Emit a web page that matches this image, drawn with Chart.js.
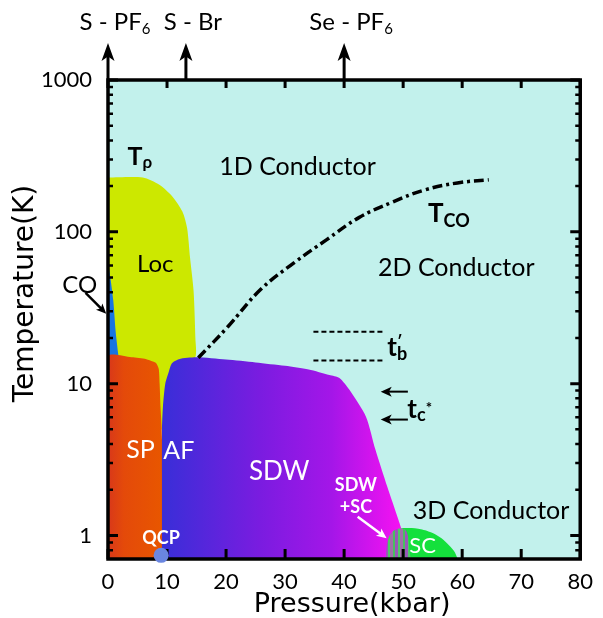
<!DOCTYPE html>
<html>
<head>
<meta charset="utf-8">
<script src="https://cdn.jsdelivr.net/npm/chart.js@4.4.0/dist/chart.umd.min.js"></script>
<style>
  html, body { margin: 0; padding: 0; background: #fff; }
</style>
</head>
<body>
<canvas id="myCanvas" width="603" height="618"></canvas>
<script>
// axis ticks
const xTicks = [0, 10, 20, 30, 40, 50, 60, 70, 80];
const yTicks = [1, 10, 100, 1000];
const yMinorTicks = [0.8, 0.9, 2, 3, 4, 5, 6, 7, 8, 9, 20, 30, 40, 50, 60, 70, 80, 90,
  200, 300, 400, 500, 600, 700, 800, 900];

// phase regions (pressure in kbar, temperature in K)
const locP = [0, 5.9, 8.7, 10.9, 12.6, 13.4, 13.9, 14.5, 14.8, 14.8, 9.2, 8.8, 0, 0];
const locT = [228, 228, 204, 171, 136, 106, 67.5, 40.8, 20, 14.9, 5, 5, 5, 228];

const coP = [0, 0.4, 0.9, 1.3, 1.7, 1.8, 0, 0];
const coT = [62, 50, 35, 22, 16, 14, 14, 62];

const spP = [0, 0, 4, 6.5, 7.6, 8.2, 8.6, 8.75, 8.9, 9.1, 9.15, 0];
const spT = [0.6, 15, 14.9, 14.5, 14.0, 13.6, 12.5, 10, 7, 5, 0.6, 0.6];

const sdwP = [9.15, 9.15, 9.3, 9.7, 10.3, 10.8, 12, 15, 20, 25, 30, 34, 37.5, 39.2,
  40.9, 43.7, 45.3, 47.3, 49.2, 50, 50.6, 9.15];
const sdwT = [0.6, 5, 7, 10, 12, 13.6, 14.5, 14.9, 14.4, 13.8, 13.1, 12.4, 11.4, 10.9,
  9.1, 6.06, 3.68, 2.1, 1.27, 1.0, 0.6, 0.6];

const scP = [49.5, 49.5, 51, 53, 55, 56.5, 57.8, 58.8, 59.5, 49.5];
const scT = [0.6, 1.1, 1.12, 1.1, 1.04, 0.96, 0.86, 0.77, 0.6, 0.6];

const mixP = [47, 47.2, 47.6, 48.3, 49.3, 50.3, 50.8, 51, 51.1, 47];
const mixT = [0.6, 0.85, 0.98, 1.07, 1.11, 1.1, 1.0, 0.85, 0.6, 0.6];

// crossover lines
const tcoP = [15.3, 20.3, 25.8, 31.5, 37, 42.5, 48.2, 53.7, 59.2, 64.5];
const tcoT = [14.8, 23.7, 41.5, 62.5, 88.5, 124, 157, 189, 210, 220];

const tbP = [34.8, 46.7];
const tbUpperT = [22, 22];
const tbLowerT = [14.2, 14.2];

const tcArrowP = [50.8, 46.2];
const tcArrowT = [8.86, 5.8];

const qcpP = [9];
const qcpT = [0.74];

// compounds marked above the plot
const compoundNames = ['S - PF', 'S - Br', 'Se - PF'];
const compoundSub = ['6', '', '6'];
const compoundP = [0, 13.2, 40];

const xTitle = 'Pressure(kbar)';
const yTitle = 'Temperature(K)';

function pts(xs, ys) {
  return xs.map((x, i) => ({ x: x, y: ys[i] }));
}

function gradient(ctx, stops, from, to) {
  const chart = ctx.chart;
  if (!chart.chartArea) return stops[0][1];
  const xs = chart.scales.x;
  const g = chart.ctx.createLinearGradient(xs.getPixelForValue(from), 0, xs.getPixelForValue(to), 0);
  stops.forEach(s => g.addColorStop(s[0], s[1]));
  return g;
}

function stripePattern() {
  const c = document.createElement('canvas');
  c.width = 10; c.height = 10;
  const g = c.getContext('2d');
  const cols = [['#a070a8', 3], ['#48c060', 2], ['#9858b8', 3], ['#50c868', 2]];
  let x = 0;
  cols.forEach(([col, w]) => { g.fillStyle = col; g.fillRect(x, 0, w, 10); x += w; });
  return g.createPattern(c, 'repeat');
}

function region(label, xs, ys, color, order) {
  return {
    label: label,
    data: pts(xs, ys),
    fill: 'shape',
    backgroundColor: color,
    borderColor: 'transparent',
    borderWidth: 0,
    pointRadius: 0,
    tension: 0.25,
    order: order
  };
}

const datasets = [
  region('Loc', locP, locT, '#cce800', 10),
  region('CO', coP, coT, '#1874e0', 9),
  region('SP', spP, spT, ctx => gradient(ctx, [[0, '#d8381a'], [0.3, '#e44a0a'], [1, '#e85600']], 0, 9), 8),
  region('SDW', sdwP, sdwT, ctx => gradient(ctx, [[0, '#3a2ed8'], [0.4, '#7a1ce0'], [0.7, '#a416e8'], [1, '#f812f2']], 9.5, 50), 7),
  region('SC', scP, scT, '#14e03c', 6),
  region('SDW+SC', mixP, mixT, stripePattern(), 5),
  {
    label: 'Tco', data: pts(tcoP, tcoT), borderColor: '#000', borderWidth: 3.5,
    borderDash: [10, 4, 3, 4], pointRadius: 0, tension: 0.4, fill: false, order: 4
  },
  {
    label: 'tb upper', data: pts(tbP, tbUpperT), borderColor: '#000', borderWidth: 2,
    borderDash: [5, 3], pointRadius: 0, fill: false, order: 3
  },
  {
    label: 'tb lower', data: pts(tbP, tbLowerT), borderColor: '#000', borderWidth: 2,
    borderDash: [5, 3], pointRadius: 0, fill: false, order: 3
  },
  {
    label: 'QCP', data: pts(qcpP, qcpT), showLine: false, pointRadius: 7.5,
    pointBackgroundColor: '#6a86e0', pointBorderWidth: 0, clip: false, order: 0
  }
];

// text placed in data coordinates
const notes = [
  { p: 32.1, t: 268, parts: [['1D Conductor', 25, 0]], color: '#000', bold: false, align: 'center' },
  { p: 59, t: 58, parts: [['2D Conductor', 25, 0]], color: '#000', bold: false, align: 'center' },
  { p: 64.9, t: 1.46, parts: [['3D Conductor', 25, 0]], color: '#000', bold: false, align: 'center' },
  { p: 8, t: 60.7, parts: [['Loc', 24, 0]], color: '#000', bold: false, align: 'center' },
  { p: -4.8, t: 44.8, parts: [['CO', 24, 0]], color: '#000', bold: false, align: 'center' },
  { p: 5.5, t: 3.68, parts: [['SP', 25, 0]], color: '#fff', bold: false, align: 'center' },
  { p: 12, t: 3.62, parts: [['AF', 25, 0]], color: '#fff', bold: false, align: 'center' },
  { p: 29, t: 2.64, parts: [['SDW', 26, 0]], color: '#fff', bold: false, align: 'center' },
  { p: 42, t: 2.16, parts: [['SDW', 18, 0]], color: '#fff', bold: true, align: 'center' },
  { p: 42, t: 1.53, parts: [['+SC', 18, 0]], color: '#fff', bold: true, align: 'center' },
  { p: 53.3, t: 0.85, parts: [['SC', 22, 0]], color: '#fff', bold: false, align: 'center' },
  { p: 9, t: 0.955, parts: [['QCP', 18, 0]], color: '#fff', bold: true, align: 'center' },
  { p: 3.3, t: 311, parts: [['T', 25, 0], ['ρ', 17, 6]], color: '#000', bold: true, align: 'left' },
  { p: 54.2, t: 131, parts: [['T', 26, 0], ['CO', 18, 7]], color: '#000', bold: true, align: 'left' },
  { p: 47.3, t: 17.2, parts: [['t', 26, 0], ['\u2032', 16, -7, true], ['b', 18, 6]], color: '#000', bold: true, align: 'left' },
  { p: 50.7, t: 6.75, parts: [['t', 26, 0], ['c', 18, 6], ['*', 15, -1]], color: '#000', bold: true, align: 'left' }
];

function drawRich(ctx, x, y, n) {
  ctx.save();
  ctx.fillStyle = n.color;
  ctx.textBaseline = 'middle';
  let total = 0;
  const weight = n.bold ? 'bold ' : '';
  n.parts.forEach(p => {
    ctx.font = weight + p[1] + 'px Lato';
    if (!p[3]) total += ctx.measureText(p[0]).width;
  });
  let cx = n.align === 'center' ? x - total / 2 : x;
  n.parts.forEach(p => {
    ctx.font = weight + p[1] + 'px Lato';
    ctx.textAlign = 'left';
    ctx.fillText(p[0], cx, y + p[2]);
    if (!p[3]) cx += ctx.measureText(p[0]).width;
  });
  ctx.restore();
}

function arrow(ctx, x1, y1, x2, y2, color, lw, head, wide) {
  const a = Math.atan2(y2 - y1, x2 - x1);
  const bx = x2 - head * Math.cos(a), by = y2 - head * Math.sin(a);
  ctx.save();
  ctx.strokeStyle = color; ctx.fillStyle = color; ctx.lineWidth = lw;
  ctx.beginPath(); ctx.moveTo(x1, y1); ctx.lineTo(bx + head * 0.3 * Math.cos(a), by + head * 0.3 * Math.sin(a)); ctx.stroke();
  ctx.beginPath();
  ctx.moveTo(x2, y2);
  ctx.lineTo(bx - wide * Math.sin(a), by + wide * Math.cos(a));
  ctx.lineTo(bx + head * 0.25 * Math.cos(a), by + head * 0.25 * Math.sin(a));
  ctx.lineTo(bx + wide * Math.sin(a), by - wide * Math.cos(a));
  ctx.closePath(); ctx.fill();
  ctx.restore();
}

function drawFrame(chart) {
  const ctx = chart.ctx;
  const { left, right, top, bottom } = chart.chartArea;
  const xs = chart.scales.x, ys = chart.scales.y;
  ctx.save();
  ctx.strokeStyle = '#000';
  ctx.lineWidth = 3;
  ctx.beginPath();
  xTicks.forEach(v => {
    const px = xs.getPixelForValue(v);
    ctx.moveTo(px, bottom); ctx.lineTo(px, bottom - 10);
    ctx.moveTo(px, top); ctx.lineTo(px, top + 8);
  });
  yTicks.forEach(v => {
    const py = ys.getPixelForValue(v);
    ctx.moveTo(left, py); ctx.lineTo(left + 10, py);
    ctx.moveTo(right, py); ctx.lineTo(right - 10, py);
  });
  ctx.stroke();
  ctx.lineWidth = 2.5;
  ctx.beginPath();
  yMinorTicks.forEach(v => {
    const py = ys.getPixelForValue(v);
    ctx.moveTo(left, py); ctx.lineTo(left + 5, py);
    ctx.moveTo(right, py); ctx.lineTo(right - 5, py);
  });
  ctx.stroke();
  ctx.lineWidth = 3.5;
  ctx.strokeRect(left, top, right - left, bottom - top);
  ctx.restore();
}

const decorations = {
  id: 'decorations',
  beforeDraw(chart) {
    const { left, right, top, bottom } = chart.chartArea;
    chart.ctx.save();
    chart.ctx.fillStyle = '#c2f1ec';
    chart.ctx.fillRect(left, top, right - left, bottom - top);
    chart.ctx.restore();
  },
  beforeDatasetDraw(chart, args) {
    if (chart.data.datasets[args.index].label === 'QCP') drawFrame(chart);
  },
  afterDatasetsDraw(chart) {
    const ctx = chart.ctx;
    const xs = chart.scales.x, ys = chart.scales.y;
    const { top, bottom, left, right } = chart.chartArea;

    // tc* arrows
    tcArrowT.forEach(t => {
      const py = ys.getPixelForValue(t);
      arrow(ctx, xs.getPixelForValue(tcArrowP[0]), py, xs.getPixelForValue(tcArrowP[1]), py, '#000', 2, 11, 5);
    });
    // CO arrow
    arrow(ctx, xs.getPixelForValue(-3.8), ys.getPixelForValue(39.6), xs.getPixelForValue(-0.3), ys.getPixelForValue(28.9), '#000', 2.5, 10, 4.5);
    // SDW+SC arrow
    arrow(ctx, xs.getPixelForValue(42.3), ys.getPixelForValue(1.33), xs.getPixelForValue(47.2), ys.getPixelForValue(0.96), '#fff', 2.5, 10, 4.5);

    // compound arrows and names above the frame
    compoundP.forEach((p, i) => {
      const px = xs.getPixelForValue(p);
      arrow(ctx, px, top, px, top - 37, '#000', 3, 18, 6.5);
      drawRich(ctx, px + 7, top - 58, {
        parts: compoundSub[i] ? [[compoundNames[i], 24, 0], [compoundSub[i], 15, 7]] : [[compoundNames[i], 24, 0]],
        color: '#000', bold: false, align: 'center'
      });
    });

    notes.forEach(n => drawRich(ctx, xs.getPixelForValue(n.p), ys.getPixelForValue(n.t), n));

    // axis titles
    ctx.save();
    ctx.fillStyle = '#000';
    ctx.textAlign = 'center';
    ctx.textBaseline = 'middle';
    ctx.font = '27px "DejaVu Sans"';
    ctx.fillText(xTitle, (left + right) / 2 + 8, bottom + 46);
    ctx.translate(26, (top + bottom) / 2 - 26);
    ctx.rotate(-Math.PI / 2);
    ctx.font = '28px "DejaVu Sans"';
    ctx.fillText(yTitle, 0, 0);
    ctx.restore();
  }
};

const config = {
  type: 'line',
  data: { datasets: datasets },
  options: {
    responsive: false,
    animation: false,
    events: [],
    layout: { padding: { top: 80, right: 15, left: 0, bottom: 0 } },
    plugins: { legend: { display: false }, tooltip: { enabled: false } },
    scales: {
      x: {
        type: 'linear', min: 0, max: 80,
        afterBuildTicks: s => { s.ticks = xTicks.map(v => ({ value: v })); },
        afterFit: s => { s.height = 59; },
        ticks: { color: '#000', padding: 10, maxRotation: 0, autoSkip: false, font: { family: 'Lato', size: 22 } },
        grid: { display: false, drawTicks: false },
        border: { display: false }
      },
      y: {
        type: 'logarithmic', min: 0.706, max: 1000,
        afterBuildTicks: s => { s.ticks = yTicks.map(v => ({ value: v })); },
        afterFit: s => { s.width = 108; },
        ticks: { color: '#000', padding: 16, autoSkip: false, font: { family: 'Lato', size: 22 }, callback: v => String(v) },
        grid: { display: false, drawTicks: false },
        border: { display: false }
      }
    }
  },
  plugins: [decorations]
};

const myChart = new Chart(document.getElementById('myCanvas'), config);
</script>
</body>
</html>
